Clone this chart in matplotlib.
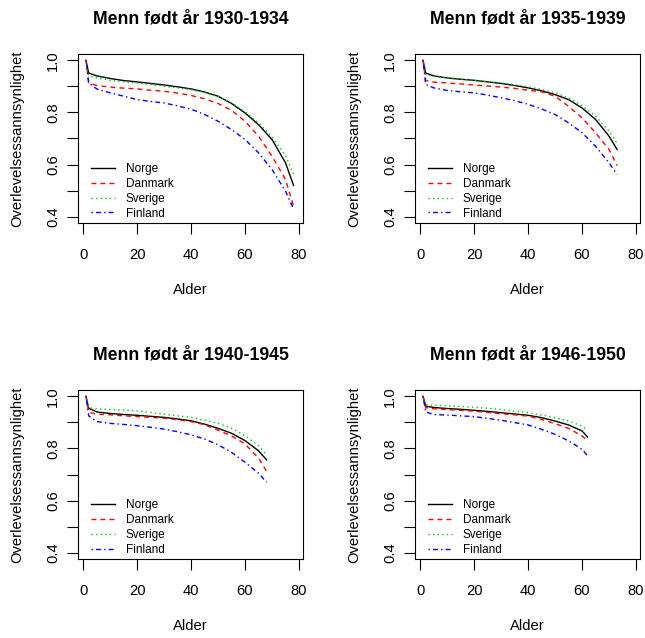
import matplotlib.pyplot as plt

plt.rcParams['font.family'] = ['Liberation Sans', 'DejaVu Sans']
plt.rcParams['lines.scale_dashes'] = False

# Survival probability by age, men, four birth cohorts
titles = ["Menn født år 1930-1934", "Menn født år 1935-1939",
          "Menn født år 1940-1945", "Menn født år 1946-1950"]
countries = ["Norge", "Danmark", "Sverige", "Finland"]

ages_1930 = [1, 2, 5, 10, 15, 20, 25, 30, 35, 40, 45, 50, 55, 60, 65, 70, 75, 78]
norge_1930 = [1.0, 0.951, 0.940, 0.930, 0.922, 0.917, 0.911, 0.905, 0.898, 0.890,
              0.878, 0.862, 0.834, 0.798, 0.753, 0.696, 0.607, 0.52]
danmark_1930 = [1.0, 0.913, 0.903, 0.897, 0.893, 0.890, 0.885, 0.881, 0.874, 0.865,
                0.852, 0.834, 0.808, 0.766, 0.709, 0.632, 0.543, 0.44]
sverige_1930 = [1.0, 0.941, 0.932, 0.923, 0.917, 0.913, 0.907, 0.900, 0.894, 0.887,
                0.876, 0.860, 0.837, 0.802, 0.760, 0.706, 0.635, 0.562]
finland_1930 = [1.0, 0.913, 0.890, 0.875, 0.862, 0.849, 0.842, 0.836, 0.825, 0.812,
                0.792, 0.766, 0.734, 0.696, 0.645, 0.581, 0.498, 0.43]

ages_1935 = [1, 2, 5, 10, 15, 20, 25, 30, 35, 40, 45, 50, 55, 60, 65, 70, 73]
norge_1935 = [1.0, 0.951, 0.940, 0.932, 0.927, 0.923, 0.917, 0.911, 0.903, 0.894,
              0.883, 0.868, 0.849, 0.817, 0.773, 0.709, 0.658]
danmark_1935 = [1.0, 0.923, 0.916, 0.913, 0.909, 0.905, 0.901, 0.897, 0.892, 0.885,
                0.879, 0.862, 0.823, 0.779, 0.722, 0.658, 0.596]
sverige_1935 = [1.0, 0.945, 0.938, 0.932, 0.927, 0.923, 0.918, 0.913, 0.906, 0.898,
                0.888, 0.875, 0.856, 0.826, 0.786, 0.728, 0.681]
finland_1935 = [1.0, 0.907, 0.894, 0.884, 0.879, 0.875, 0.866, 0.856, 0.845, 0.831,
                0.813, 0.792, 0.760, 0.722, 0.670, 0.607, 0.562]

ages_1940 = [1, 2, 5, 10, 15, 20, 25, 30, 35, 40, 45, 50, 55, 60, 65, 68]
norge_1940 = [1.0, 0.954, 0.940, 0.934, 0.930, 0.927, 0.923, 0.919, 0.913, 0.906,
              0.893, 0.877, 0.858, 0.830, 0.791, 0.756]
danmark_1940 = [1.0, 0.938, 0.932, 0.929, 0.925, 0.922, 0.919, 0.916, 0.910, 0.903,
                0.891, 0.870, 0.848, 0.817, 0.763, 0.712]
sverige_1940 = [1.0, 0.957, 0.952, 0.949, 0.947, 0.944, 0.938, 0.931, 0.925, 0.919,
                0.908, 0.896, 0.878, 0.849, 0.810, 0.776]
finland_1940 = [1.0, 0.925, 0.903, 0.896, 0.892, 0.887, 0.881, 0.874, 0.864, 0.852,
                0.836, 0.814, 0.785, 0.747, 0.705, 0.670]

ages_1946 = [1, 2, 5, 10, 15, 20, 25, 30, 35, 40, 45, 50, 55, 60, 62]
norge_1946 = [1.0, 0.962, 0.957, 0.953, 0.950, 0.946, 0.942, 0.937, 0.932, 0.927,
              0.918, 0.905, 0.890, 0.867, 0.844]
danmark_1946 = [1.0, 0.956, 0.952, 0.949, 0.946, 0.943, 0.938, 0.933, 0.929, 0.924,
                0.911, 0.895, 0.877, 0.848, 0.829]
sverige_1946 = [1.0, 0.968, 0.966, 0.964, 0.961, 0.958, 0.954, 0.949, 0.943, 0.937,
                0.928, 0.918, 0.905, 0.886, 0.870]
finland_1946 = [1.0, 0.940, 0.930, 0.928, 0.925, 0.922, 0.915, 0.908, 0.899, 0.890,
                0.873, 0.854, 0.829, 0.797, 0.772]

cohorts = [
    (ages_1930, [norge_1930, danmark_1930, sverige_1930, finland_1930]),
    (ages_1935, [norge_1935, danmark_1935, sverige_1935, finland_1935]),
    (ages_1940, [norge_1940, danmark_1940, sverige_1940, finland_1940]),
    (ages_1946, [norge_1946, danmark_1946, sverige_1946, finland_1946]),
]

x_ticks = [0, 20, 40, 60, 80]
y_ticks = [0.4, 0.5, 0.6, 0.7, 0.8, 0.9, 1.0]
y_labels = ["0.4", "", "0.6", "", "0.8", "", "1.0"]

# line styles like R's lty 1-4
colors = ["black", "#FF0000", "#00CD00", "#0000FF"]
dashes = [None, (3.5, 3.0), (1.0, 2.3), (1.0, 2.3, 3.5, 2.3)]

fig = plt.figure(figsize=(6.45, 6.38), dpi=100)
positions = [[0.1209, 0.6505, 0.3488, 0.2649], [0.6434, 0.6505, 0.3488, 0.2649],
             [0.1209, 0.1238, 0.3488, 0.2649], [0.6434, 0.1238, 0.3488, 0.2649]]

for pos, title, (ages, series) in zip(positions, titles, cohorts):
    ax = fig.add_axes(pos)
    for name, vals, col, dsh in zip(countries, series, colors, dashes):
        line, = ax.plot(ages, vals, color=col, lw=1.0, label=name)
        if dsh is not None:
            line.set_dashes(dsh)

    ax.set_xlim(-1.97, 81.48)
    ax.set_ylim(0.376, 1.024)
    ax.set_xticks(x_ticks)
    ax.set_yticks(y_ticks)
    ax.set_yticklabels(y_labels, rotation=90, va='center')
    ax.tick_params(direction='out', length=8, width=0.8, labelsize=10.6,
                   colors='black')
    ax.tick_params(axis='x', pad=10)
    ax.tick_params(axis='y', pad=5)

    for s in ax.spines.values():
        s.set_linewidth(0.8)

    ax.set_title(title, y=1.207, pad=0, va='center', fontsize=12.7,
                 fontweight='bold')
    ax.set_xlabel("Alder", fontsize=10.6, va='center')
    ax.xaxis.set_label_coords(0.5, -0.396)
    ax.set_ylabel("Overlevelsessannsynlighet", fontsize=10.6, va='center')
    ax.yaxis.set_label_coords(-0.271, 0.5)

    ax.legend(loc='lower left', bbox_to_anchor=(0.06, 0.02), frameon=False,
              fontsize=8.5, borderpad=0, borderaxespad=0, handlelength=2.0,
              handletextpad=0.9, labelspacing=0.25)

plt.savefig("out.png", dpi=100)
